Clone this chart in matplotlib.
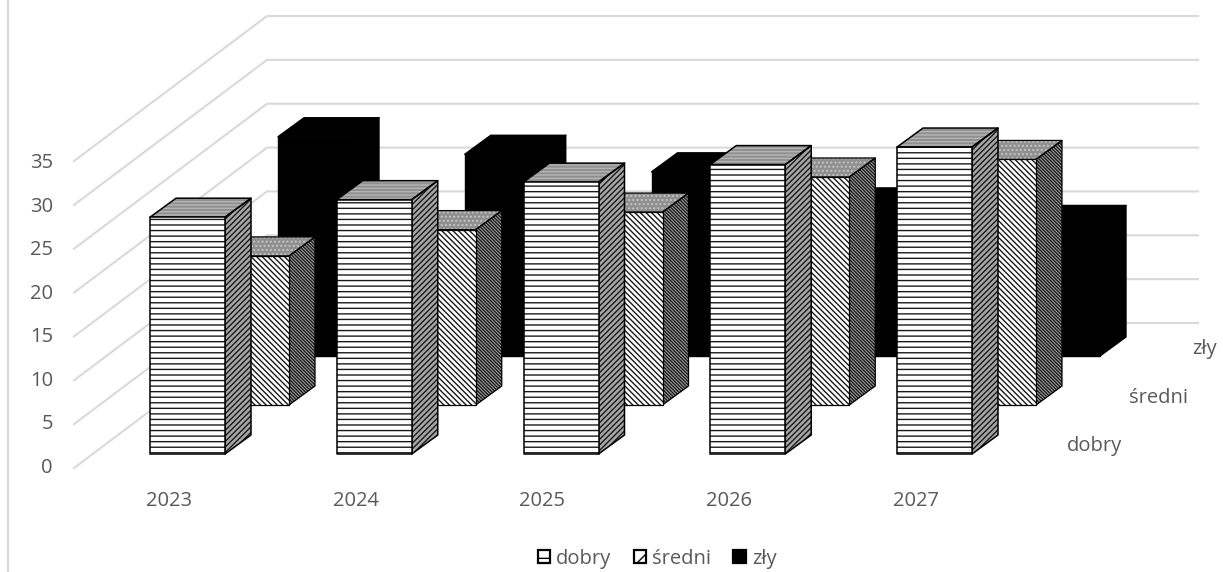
import matplotlib
matplotlib.use("Agg")
import matplotlib.pyplot as plt
from matplotlib.patches import Polygon, Patch

years = ["2023", "2024", "2025", "2026", "2027"]
series_names = ["dobry", "średni", "zły"]
dobry = [27, 29, 31, 33, 35]
sredni = [17, 20, 22, 26, 28]
zly = [25, 23, 21, 17, 15]
value_ticks = [0, 5, 10, 15, 20, 25, 30, 35]

W, H = 1223, 572
PX_CAT = 186.75        # pixels per category
PX_VAL = 8.77          # pixels per value unit
X0_PX, Y0_PX = 187.5, 454  # centre of the first front bar, base line
GREY = "#595959"
GRID = "#d9d9d9"
FS = 14.5

plt.rcParams["font.family"] = ["Open Sans", "DejaVu Sans"]
plt.rcParams["hatch.linewidth"] = 1.0

fig = plt.figure(figsize=(W / 100, H / 100), dpi=100)
ax = fig.add_axes([0, 0, 1, 1])
ax.set_xlim(-X0_PX / PX_CAT, (W - X0_PX) / PX_CAT)
ax.set_ylim((Y0_PX - H) / PX_VAL, Y0_PX / PX_VAL)
ax.axis("off")

def dx(px):
    return px / PX_CAT

def dy(px):
    return px / PX_VAL

bar_w = dx(75)
depth_x, depth_y = dx(26), dy(19)
step_x, step_y = dx(64), dy(49)

# chart border on the left
ax.plot([dx(7.5) + ax.get_xlim()[0]] * 2, ax.get_ylim(), color=GRID, lw=1.5, zorder=1)

# gridlines: wall (from the left edge to the back corner, then across)
x_front = dx(74 - X0_PX)
x_back = dx(267 - X0_PX)
x_end = dx(1198 - X0_PX)
front_off = dy(Y0_PX - 468)
back_off = dy(Y0_PX - 323)
for v in value_ticks:
    ax.plot([x_front, x_back, x_end],
            [v + front_off, v + back_off, v + back_off],
            color=GRID, lw=1.5, zorder=1, solid_joinstyle="miter")
    ax.text(dx(53 - X0_PX), v * 0.993 + dy(Y0_PX - 468), str(v), ha="right", va="center",
            fontsize=FS, color=GREY)

for i, y in enumerate(years):
    ax.text(i + dx(-18.5), dy(Y0_PX - 501), y, ha="center", va="center",
            fontsize=FS, color=GREY)

for name, px, py in zip(series_names, [1094, 1159, 1205], [446, 398, 349]):
    ax.text(dx(px - X0_PX), dy(Y0_PX - py), name, ha="center", va="center",
            fontsize=FS, color=GREY)

styles = {
    0: dict(face="white", hatch="---", top="#8f8f8f", top_hatch="-----", top_col="#b5b5b5",
            side="#a6a6a6", side_hatch="//////", lw=1.1),
    1: dict(face="white", hatch="\\" * 6, top="#8f8f8f", top_hatch="....", top_col="#c4c4c4",
            side="#a6a6a6", side_hatch="\\" * 10, lw=0.9),
    2: dict(face="black", hatch=None, top="black", top_hatch=None, top_col="black",
            side="black", side_hatch=None, lw=1.0),
}

def face(points, fc, hatch, hatch_col, lw, z):
    ax.add_patch(Polygon(points, closed=True, facecolor=fc, edgecolor=hatch_col,
                         hatch=hatch, lw=0, zorder=z))
    ax.add_patch(Polygon(points, closed=True, fill=False, edgecolor="black",
                         lw=lw, zorder=z + 0.1, joinstyle="round"))

all_values = [dobry, sredni, zly]
for s in [2, 1, 0]:
    st = styles[s]
    base = s * step_y
    shift = s * step_x
    z = 10 - 2 * s
    for i, v in enumerate(all_values[s]):
        l = i - bar_w / 2 + shift
        r = l + bar_w
        b = base
        t = base + v
        face([(l, t), (r, t), (r + depth_x, t + depth_y), (l + depth_x, t + depth_y)],
             st["top"], st["top_hatch"], st["top_col"], st["lw"], z)
        face([(r, b), (r + depth_x, b + depth_y), (r + depth_x, t + depth_y), (r, t)],
             st["side"], st["side_hatch"], "#1a1a1a", st["lw"], z)
        face([(l, b), (r, b), (r, t), (l, t)],
             st["face"], st["hatch"], "#1a1a1a", st["lw"], z + 0.5)

handles = [
    Patch(facecolor="white", edgecolor="black", hatch="-", lw=1.6),
    Patch(facecolor="white", edgecolor="black", hatch="//", lw=1.6),
    Patch(facecolor="black", edgecolor="black", lw=1.6),
]
ax.legend(handles, series_names, ncol=3, frameon=False, loc="center",
          bbox_to_anchor=(657 / W, 1 - 559 / H), fontsize=FS, labelcolor=GREY,
          handlelength=0.62, handleheight=0.62, handletextpad=0.3, columnspacing=1.1,
          borderpad=0, borderaxespad=0)

fig.savefig("out.png", dpi=100)
